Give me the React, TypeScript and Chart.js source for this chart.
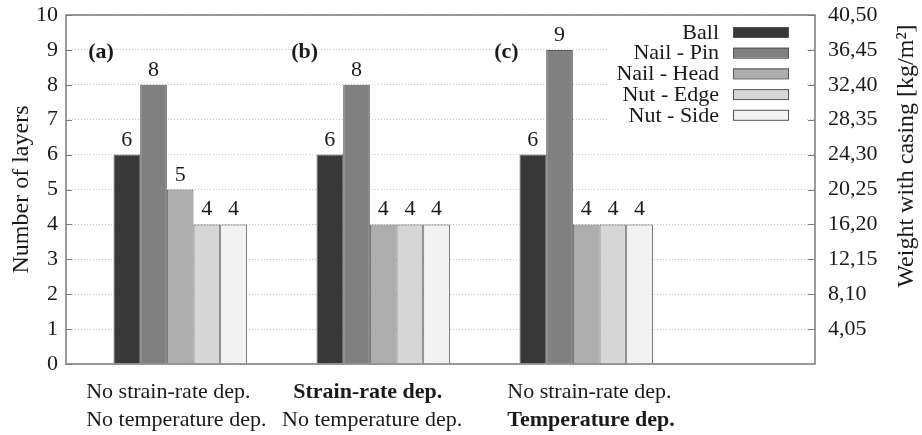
import React, { useEffect, useRef } from 'react';
import { Chart, registerables } from 'chart.js';

Chart.register(...registerables);

// ---- data ----
const groupPositions = [0, 1, 2];
const groupTags = ['(a)', '(b)', '(c)'];
const seriesNames = ['Ball', 'Nail - Pin', 'Nail - Head', 'Nut - Edge', 'Nut - Side'];
const ballLayers = [6, 6, 6];
const nailPinLayers = [8, 8, 9];
const nailHeadLayers = [5, 4, 4];
const nutEdgeLayers = [4, 4, 4];
const nutSideLayers = [4, 4, 4];
const seriesValues = [ballLayers, nailPinLayers, nailHeadLayers, nutEdgeLayers, nutSideLayers];
const seriesColors = ['#383838', '#808080', '#adadad', '#d6d6d6', '#f2f2f2'];
const leftTickValues = [0, 1, 2, 3, 4, 5, 6, 7, 8, 9, 10];
const rightTickValues = [4.05, 8.1, 12.15, 16.2, 20.25, 24.3, 28.35, 32.4, 36.45, 40.5];
const strainLabels = ['No strain-rate dep.', 'Strain-rate dep.', 'No strain-rate dep.'];
const strainBold = [false, true, false];
const tempLabels = ['No temperature dep.', 'No temperature dep.', 'Temperature dep.'];
const tempBold = [false, false, true];
const leftTitle = 'Number of layers';
const rightTitle = 'Weight with casing [kg/m²]';

// ---- layout / style ----
const FONT = '"Liberation Serif", "Times New Roman", serif';
const FS = 22;
const TEXT = '#1a1a1a';
const FRAME = '#7a7a7a';
// left offsets (in x units) of the two bottom text lines of each group
const line1Offset = [-0.463, -0.443, -0.389];
const line2Offset = [-0.463, -0.498, -0.389];

const overlayPlugin = {
  id: 'overlay',
  afterDatasetsDraw(chart: any) {
    const ctx = chart.ctx;
    const x = chart.scales.x;
    const y = chart.scales.y;
    ctx.save();
    // value labels
    ctx.fillStyle = TEXT;
    ctx.font = `${FS}px ${FONT}`;
    ctx.textAlign = 'center';
    ctx.textBaseline = 'alphabetic';
    chart.data.datasets.forEach((ds: any, i: number) => {
      const meta = chart.getDatasetMeta(i);
      meta.data.forEach((bar: any, j: number) => {
        ctx.fillText(String(seriesValues[i][j]), bar.x, bar.y - 9);
      });
    });
    // group tags
    ctx.font = `bold ${FS}px ${FONT}`;
    ctx.textAlign = 'left';
    ctx.textBaseline = 'middle';
    groupPositions.forEach((g, i) => {
      ctx.fillText(groupTags[i], x.getPixelForValue(g - 0.453), y.getPixelForValue(9) + 2);
    });
    // legend
    const ca = chart.chartArea;
    ctx.fillStyle = '#ffffff';
    ctx.fillRect(607, ca.top + 1, ca.right - 8 - 607, 110);
    ctx.font = `${FS}px ${FONT}`;
    ctx.textAlign = 'right';
    ctx.textBaseline = 'middle';
    seriesNames.forEach((name, i) => {
      const cy = 32 + i * 20.7;
      ctx.fillStyle = TEXT;
      ctx.fillText(name, 719, cy + 1);
      ctx.fillStyle = seriesColors[i];
      ctx.fillRect(733, cy - 5, 56, 10);
      ctx.strokeStyle = '#555';
      ctx.lineWidth = 1;
      ctx.strokeRect(733.5, cy - 5 + 0.5, 55, 10);
    });
    ctx.restore();
  },
  afterDraw(chart: any) {
    const ctx = chart.ctx;
    const ca = chart.chartArea;
    const x = chart.scales.x;
    const y = chart.scales.y;
    const y2 = chart.scales.y2;
    ctx.save();
    // inward ticks
    ctx.strokeStyle = FRAME;
    ctx.lineWidth = 1;
    leftTickValues.forEach((v) => {
      const py = Math.round(y.getPixelForValue(v)) + 0.5;
      ctx.beginPath();
      ctx.moveTo(ca.left, py);
      ctx.lineTo(ca.left + 6, py);
      ctx.stroke();
    });
    rightTickValues.forEach((v) => {
      const py = Math.round(y2.getPixelForValue(v)) + 0.5;
      ctx.beginPath();
      ctx.moveTo(ca.right - 7, py);
      ctx.lineTo(ca.right, py);
      ctx.stroke();
    });
    // frame
    ctx.lineWidth = 1.5;
    ctx.strokeRect(ca.left, ca.top, ca.right - ca.left, ca.bottom - ca.top);
    // bottom labels
    ctx.fillStyle = TEXT;
    ctx.textAlign = 'left';
    ctx.textBaseline = 'middle';
    groupPositions.forEach((g, i) => {
      ctx.font = `${strainBold[i] ? 'bold ' : ''}${FS}px ${FONT}`;
      ctx.fillText(strainLabels[i], x.getPixelForValue(g + line1Offset[i]), ca.bottom + 28);
      ctx.font = `${tempBold[i] ? 'bold ' : ''}${FS}px ${FONT}`;
      ctx.fillText(tempLabels[i], x.getPixelForValue(g + line2Offset[i]), ca.bottom + 56);
    });
    // axis titles
    ctx.font = `24px ${FONT}`;
    ctx.textAlign = 'center';
    ctx.save();
    ctx.translate(22, (ca.top + ca.bottom) / 2);
    ctx.rotate(-Math.PI / 2);
    ctx.fillText(leftTitle, 0, 0);
    ctx.restore();
    ctx.save();
    ctx.translate(907, 156);
    ctx.rotate(-Math.PI / 2);
    ctx.fillText(rightTitle, 0, 0);
    ctx.restore();
    ctx.restore();
  },
};

const noEdgePadding = (s: any, w: number) => {
  s.width = w;
  s.paddingTop = 0;
  s.paddingBottom = 0;
};

export default function App() {
  const ref = useRef<HTMLCanvasElement | null>(null);
  useEffect(() => {
    document.body.style.margin = '0';
    const canvas = ref.current;
    if (!canvas) return;
    const chart = new Chart(canvas, {
      type: 'bar',
      data: {
        datasets: seriesNames.map((name, i) => ({
          label: name,
          data: groupPositions.map((g, j) => ({ x: g, y: seriesValues[i][j] })),
          backgroundColor: seriesColors[i],
          borderColor: '#5a5a5a',
          borderWidth: 1,
          yAxisID: 'y',
          categoryPercentage: 0.657,
          barPercentage: 1,
        })),
      } as any,
      options: {
        animation: false,
        responsive: false,
        maintainAspectRatio: false,
        layout: { padding: { top: 15, bottom: 71, left: 0, right: 0 } },
        plugins: { legend: { display: false }, tooltip: { enabled: false } },
        scales: {
          x: {
            type: 'linear',
            min: -0.5625,
            max: 3.127,
            display: false,
            offset: false,
            afterBuildTicks: (s: any) => {
              s.ticks = groupPositions.map((v) => ({ value: v }));
            },
          },
          y: {
            position: 'left',
            min: 0,
            max: 10,
            afterBuildTicks: (s: any) => {
              s.ticks = leftTickValues.map((v) => ({ value: v }));
            },
            afterFit: (s: any) => noEdgePadding(s, 66),
            ticks: {
              font: { family: FONT, size: FS },
              color: TEXT,
              padding: 8,
            },
            grid: { color: '#c4c4c4', lineWidth: 1, drawTicks: false },
            border: { display: false, dash: [1, 2] },
          },
          y2: {
            position: 'right',
            min: 0,
            max: 40.5,
            afterBuildTicks: (s: any) => {
              s.ticks = rightTickValues.map((v) => ({ value: v }));
            },
            afterFit: (s: any) => noEdgePadding(s, 107),
            ticks: {
              font: { family: FONT, size: FS },
              color: TEXT,
              padding: 13,
              callback: (v: any) => Number(v).toFixed(2).replace('.', ','),
            },
            grid: { display: false, drawTicks: false },
            border: { display: false },
          },
        },
      } as any,
      plugins: [overlayPlugin],
    });
    return () => chart.destroy();
  }, []);
  return (
    <div style={{ width: 922, height: 435, position: 'relative', background: '#fff' }}>
      <canvas ref={ref} width={922} height={435} style={{ display: 'block' }} />
    </div>
  );
}
